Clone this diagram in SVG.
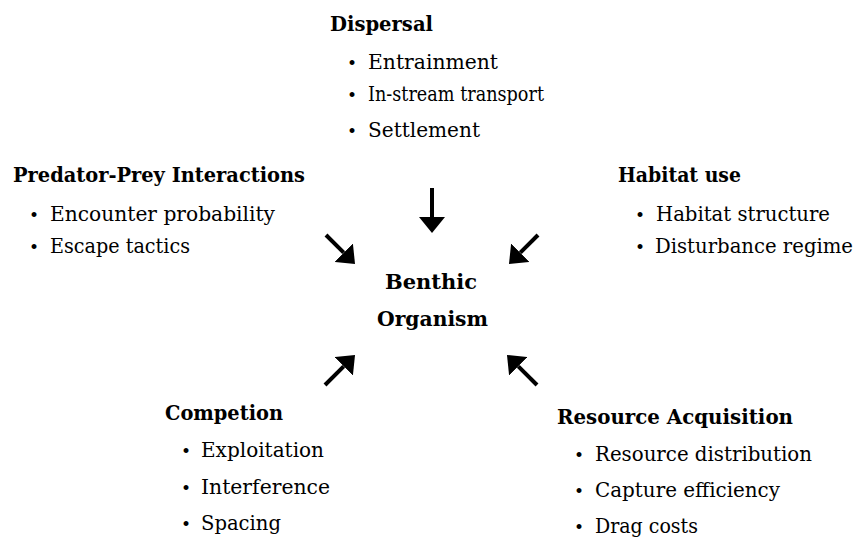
<svg xmlns="http://www.w3.org/2000/svg" width="859" height="540" viewBox="0 0 859 540">
<style>
text{font-family:"DejaVu Serif","Liberation Serif",serif;font-size:21px;fill:#000}
.t{font-weight:bold}
.b{text-anchor:middle;font-size:17px}
.s{font-size:20px}
.a{stroke:#000;stroke-width:4;fill:none}
</style>
<defs>
<marker id="h" viewBox="0 0 16 26" markerUnits="userSpaceOnUse" markerWidth="16" markerHeight="26" refX="0" refY="13" orient="auto"><path d="M0,0 L16,13 L0,26 z" fill="#000"/></marker>
</defs>
<rect width="859" height="540" fill="#fff"/>
<g id="dispersal">
<text class="t" x="330" y="31" textLength="103" lengthAdjust="spacingAndGlyphs">Dispersal</text>
<text class="b" x="352" y="69">•</text><text x="368" y="69" textLength="130" lengthAdjust="spacingAndGlyphs">Entrainment</text>
<text class="b" x="352" y="101">•</text><text x="368" y="101" textLength="176" lengthAdjust="spacingAndGlyphs">In-stream transport</text>
<text class="b" x="352" y="137">•</text><text x="368" y="137" textLength="112" lengthAdjust="spacingAndGlyphs">Settlement</text>
</g>
<g id="predator">
<text class="t" x="13" y="182" textLength="292" lengthAdjust="spacingAndGlyphs">Predator-Prey Interactions</text>
<text class="b" x="34" y="221">•</text><text x="50" y="221" textLength="225" lengthAdjust="spacingAndGlyphs">Encounter probability</text>
<text class="b" x="34" y="253">•</text><text x="50" y="253" textLength="140" lengthAdjust="spacingAndGlyphs">Escape tactics</text>
</g>
<g id="habitat">
<text class="t" x="618" y="182" textLength="123" lengthAdjust="spacingAndGlyphs">Habitat use</text>
<text class="b" x="640" y="221">•</text><text x="656" y="221" textLength="174" lengthAdjust="spacingAndGlyphs">Habitat structure</text>
<text class="b" x="640" y="253">•</text><text class="s" x="655" y="253" textLength="198" lengthAdjust="spacingAndGlyphs">Disturbance regime</text>
</g>
<g id="organism">
<text class="t" x="385" y="289" textLength="92" lengthAdjust="spacingAndGlyphs">Benthic</text>
<text class="t" x="377" y="326" textLength="111" lengthAdjust="spacingAndGlyphs">Organism</text>
</g>
<g id="competion">
<text class="t" x="165" y="420" textLength="118" lengthAdjust="spacingAndGlyphs">Competion</text>
<text class="b" x="186" y="457">•</text><text x="201" y="457" textLength="123" lengthAdjust="spacingAndGlyphs">Exploitation</text>
<text class="b" x="186" y="494">•</text><text x="201" y="494" textLength="129" lengthAdjust="spacingAndGlyphs">Interference</text>
<text class="b" x="186" y="530">•</text><text x="201" y="530" textLength="80" lengthAdjust="spacingAndGlyphs">Spacing</text>
</g>
<g id="resource">
<text class="t" x="557" y="424" textLength="236" lengthAdjust="spacingAndGlyphs">Resource Acquisition</text>
<text class="b" x="579" y="461">•</text><text x="595" y="461" textLength="217" lengthAdjust="spacingAndGlyphs">Resource distribution</text>
<text class="b" x="579" y="497">•</text><text x="595" y="497" textLength="185" lengthAdjust="spacingAndGlyphs">Capture efficiency</text>
<text class="b" x="579" y="533">•</text><text x="595" y="533" textLength="103" lengthAdjust="spacingAndGlyphs">Drag costs</text>
</g>
<g id="connectors">
<line class="a" x1="432" y1="188" x2="432" y2="217" marker-end="url(#h)"/>
<line class="a" x1="326" y1="235" x2="343.7" y2="252.7" marker-end="url(#h)"/>
<line class="a" x1="538" y1="235" x2="520.3" y2="252.7" marker-end="url(#h)"/>
<line class="a" x1="325" y1="385" x2="343.7" y2="366.3" marker-end="url(#h)"/>
<line class="a" x1="537" y1="385" x2="518.3" y2="366.3" marker-end="url(#h)"/>
</g>
</svg>
